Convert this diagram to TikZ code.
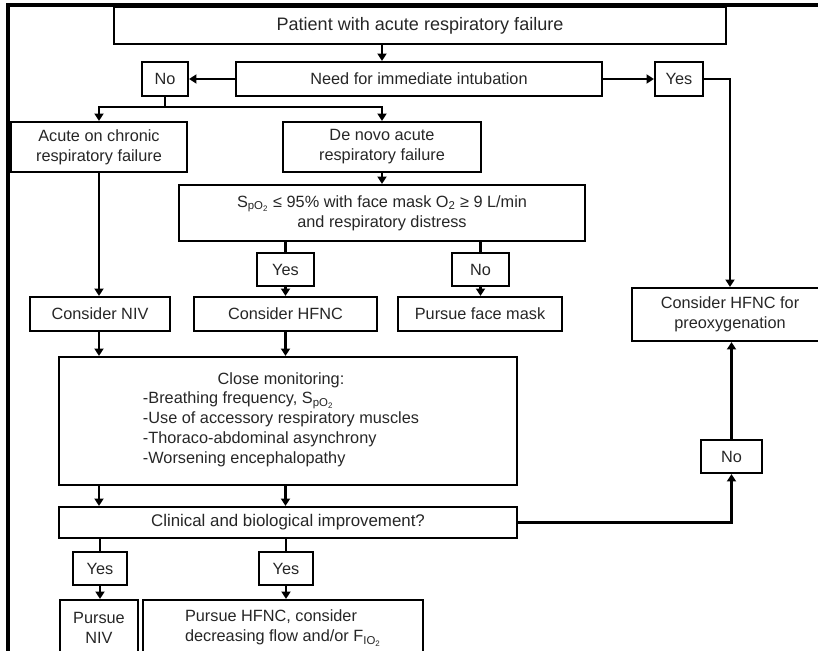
\documentclass[tikz,border=0pt]{standalone}
\usepackage{fontspec}
\setmainfont{Liberation Sans}
\usetikzlibrary{arrows.meta}
\newcommand{\sbs}[1]{\textsubscript{#1}}

\begin{document}
\begin{tikzpicture}[x=0.03cm, y=-0.03cm,
		box/.style={draw, line width=1.9pt, align=center, inner sep=0pt, text=black!85, font=\fontsize{13.9}{17}\selectfont},
		ln/.style={line width=1.9pt},
		arr/.style={line width=1.9pt, -{Triangle[length=0.22cm,width=0.27cm]}}]
		\useasboundingbox (0,0) rectangle (818,651);
		\clip (0,0) rectangle (818,651);
		%frame
		\draw[line width=3pt] (8,651) -- (8,5) -- (818,5);
		
		%first rows
		\node[box, minimum width=18.36cm, minimum height=1.11cm, font=\fontsize{15.4}{18}\selectfont] (patient) at (420,25.5) {Patient with acute respiratory failure};
		\node[box, minimum width=10.98cm, minimum height=1.02cm] (intub) at (419,79) {Need for immediate intubation};
		\node[box, minimum width=1.38cm, minimum height=1.02cm] (noA) at (165,79) {No};
		\node[box, minimum width=1.44cm, minimum height=1.02cm] (yesA) at (679,79) {Yes};
		\node[box, minimum width=5.28cm, minimum height=1.5cm] (chronic) at (99,147) {Acute on chronic\\respiratory failure};
		\node[box, minimum width=5.94cm, minimum height=1.5cm] (denovo) at (382,147) {De novo acute\\respiratory failure};
		\node[box, minimum width=12.18cm, minimum height=1.68cm] (spo) at (382,213) {S\sbs{pO\sbs{2}} ≤ 95\% with face mask O\sbs{2} ≥ 9 L/min\\and respiratory distress};
		\node[box, minimum width=1.71cm, minimum height=0.99cm] (yesB) at (285.5,269.5) {Yes};
		\node[box, minimum width=1.71cm, minimum height=0.99cm] (noB) at (480.5,269.5) {No};
		
		%treatment
		\node[box, minimum width=4.2cm, minimum height=1.02cm] (niv) at (100,314) {Consider NIV};
		\node[box, minimum width=5.49cm, minimum height=1.02cm] (hfnc) at (285.5,314) {Consider HFNC};
		\node[box, minimum width=4.92cm, minimum height=1.02cm] (mask) at (480,314) {Pursue face mask};
		\node[box, minimum width=5.88cm, minimum height=1.59cm] (preox) at (730,314.5) {Consider HFNC for\\preoxygenation};
		
		%monitoring
		\node[box, minimum width=13.74cm, minimum height=3.84cm] (monitor) at (288,421) {\hspace*{-0.42cm}Close monitoring:\\[1pt]
			\hspace*{-0.42cm}\begin{tabular}{@{}l@{}}-Breathing frequency, S\sbs{pO\sbs{2}}\\-Use of accessory respiratory muscles\\-Thoraco-abdominal asynchrony\\-Worsening encephalopathy\end{tabular}};
		\node[box, minimum width=13.74cm, minimum height=0.93cm, font=\fontsize{14.4}{17}\selectfont] (improve) at (288,522.5) {Clinical and biological improvement?};
		\node[box, minimum width=1.83cm, minimum height=0.99cm] (noC) at (731.5,456.5) {No};
		\node[box, minimum width=1.62cm, minimum height=0.99cm] (yesC) at (100,568.5) {Yes};
		\node[box, minimum width=1.62cm, minimum height=0.99cm] (yesD) at (286,568.5) {Yes};
		\node[box, minimum width=2.34cm, minimum height=1.68cm] (pniv) at (99,628) {Pursue\\NIV};
		\node[box, minimum width=8.4cm, minimum height=1.68cm, align=left] (phfnc) at (283,628) {Pursue HFNC, consider\\decreasing flow and/or F\sbs{IO\sbs{2}}};
		
		%arrows
		\coordinate (split) at (165,107);
		\draw[arr] (patient.south -| denovo) -- (intub.north -| denovo);
		\draw[arr] (intub.west) -- (noA.east);
		\draw[arr] (intub.east) -- (yesA.west);
		\draw[arr] (yesA.east) -| (preox.north);
		\draw[arr] (noA.south) -- (split) -| (chronic.north);
		\draw[arr] (split) -| (denovo.north);
		\draw[arr] (denovo.south) -- (spo.north);
		\draw[ln] (spo.south -| yesB) -- (yesB.north);
		\draw[ln] (spo.south -| noB) -- (noB.north);
		\draw[arr] (yesB.south) -- (yesB.south |- hfnc.north);
		\draw[arr] (noB.south) -- (noB.south |- mask.north);
		\draw[arr] (chronic.south) -- (chronic.south |- niv.north);
		\draw[arr] (niv.south -| chronic) -- (monitor.north -| chronic);
		\draw[arr] (hfnc.south) -- (hfnc.south |- monitor.north);
		\foreach \n in {chronic, hfnc}{
			\draw[arr] (monitor.south -| \n) -- (improve.north -| \n);
		}
		\draw[arr] (improve.east) -| (noC.south);
		\draw[arr] (noC.north) -- (noC.north |- preox.south);
		\foreach \n in {yesC, yesD}{
			\draw[ln] (improve.south -| \n) -- (\n.north);
		}
		\draw[arr] (yesC.south) -- (yesC.south |- pniv.north);
		\draw[arr] (yesD.south) -- (yesD.south |- phfnc.north);
\end{tikzpicture}
\end{document}
